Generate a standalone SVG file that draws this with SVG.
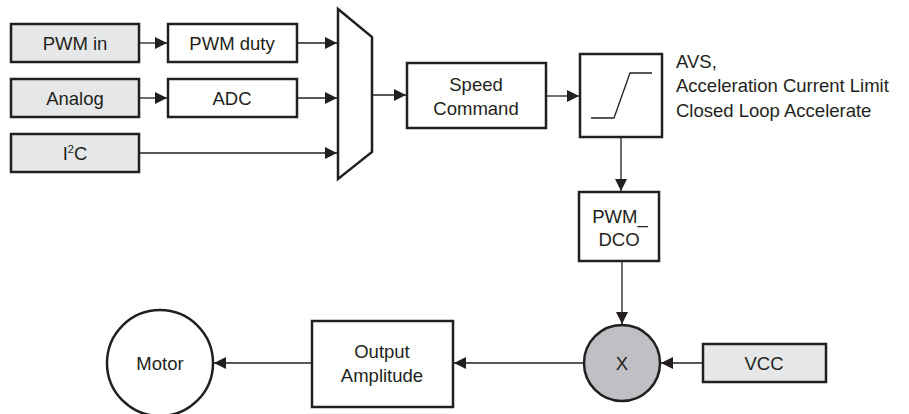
<svg xmlns="http://www.w3.org/2000/svg" width="909" height="414" viewBox="0 0 909 414">
<defs>
<style>
.box{fill:#ffffff;stroke:#231f20;stroke-width:2.5}
.in{fill:#e6e7e8;stroke:#231f20;stroke-width:2.5}
.t{font-family:"Liberation Sans",Arial,sans-serif;font-size:18.5px;fill:#231f20;text-anchor:middle}
.tl{font-family:"Liberation Sans",Arial,sans-serif;font-size:18.5px;fill:#231f20}
.c{fill:none;stroke:#231f20;stroke-width:1.3}
</style>
<marker id="ah" markerUnits="userSpaceOnUse" markerWidth="12" markerHeight="12" viewBox="0 0 12 12" refX="12" refY="6" orient="auto">
<path d="M0,0 L12,6 L0,12 Z" fill="#231f20"/>
</marker>
</defs>
<rect width="909" height="414" fill="#ffffff"/>
<g id="pwm-in"><rect class="in" x="11" y="24" width="128" height="38"/><text class="t" x="75" y="50">PWM in</text></g>
<g id="analog"><rect class="in" x="11" y="79" width="128" height="38"/><text class="t" x="75" y="105">Analog</text></g>
<g id="i2c"><rect class="in" x="11" y="134" width="128" height="38"/><text class="t" x="75" y="160">I<tspan dy="-7" font-size="11">2</tspan><tspan dy="7">C</tspan></text></g>
<g id="pwm-duty"><rect class="box" x="168" y="24" width="129" height="38"/><text class="t" x="232" y="50">PWM duty</text></g>
<g id="adc"><rect class="box" x="168" y="79" width="129" height="38"/><text class="t" x="232" y="105">ADC</text></g>
<g id="mux"><path class="box" d="M338,9 L372,37 L372,152 L338,179 Z"/></g>
<g id="speed-command"><rect class="box" x="407" y="63" width="139" height="65"/><text class="t" x="476" y="91">Speed</text><text class="t" x="476" y="115">Command</text></g>
<g id="ramp"><rect class="box" x="580" y="54" width="82" height="83"/><path d="M591,118 L614,118 L630,73 L652,73" fill="none" stroke="#231f20" stroke-width="1.3"/></g>
<g id="ramp-label"><text class="tl" x="676" y="68">AVS,</text><text class="tl" x="676" y="92">Acceleration Current Limit</text><text class="tl" x="676" y="117">Closed Loop Accelerate</text></g>
<g id="pwm-dco"><rect class="box" x="579" y="192" width="80" height="69"/><text class="t" x="620" y="223">PWM_</text><text class="t" x="619" y="246">DCO</text></g>
<g id="multiplier"><circle cx="622" cy="363" r="38" fill="#bfc0c4" stroke="#231f20" stroke-width="2.5"/><text class="t" x="622" y="370">X</text></g>
<g id="vcc"><rect class="in" x="703" y="344" width="123" height="38"/><text class="t" x="764" y="370">VCC</text></g>
<g id="output-amplitude"><rect class="box" x="312" y="321" width="141" height="86"/><text class="t" x="382" y="358">Output</text><text class="t" x="382" y="382">Amplitude</text></g>
<g id="motor"><circle cx="160" cy="363" r="53" fill="#ffffff" stroke="#231f20" stroke-width="2.5"/><text class="t" x="160" y="370">Motor</text></g>
<g id="connectors">
<line class="c" x1="140" y1="43" x2="167" y2="43" marker-end="url(#ah)"/>
<line class="c" x1="140" y1="98" x2="167" y2="98" marker-end="url(#ah)"/>
<line class="c" x1="298" y1="43" x2="337" y2="43" marker-end="url(#ah)"/>
<line class="c" x1="298" y1="98" x2="337" y2="98" marker-end="url(#ah)"/>
<line class="c" x1="140" y1="153" x2="337" y2="153" marker-end="url(#ah)"/>
<line class="c" x1="373" y1="95" x2="406" y2="95" marker-end="url(#ah)"/>
<line class="c" x1="547" y1="96" x2="579" y2="96" marker-end="url(#ah)"/>
<line class="c" x1="621" y1="138" x2="621" y2="191" marker-end="url(#ah)"/>
<line class="c" x1="622" y1="262" x2="622" y2="324" marker-end="url(#ah)"/>
<line class="c" x1="702" y1="363" x2="661" y2="363" marker-end="url(#ah)"/>
<line class="c" x1="583" y1="363" x2="454" y2="363" marker-end="url(#ah)"/>
<line class="c" x1="311" y1="363" x2="214" y2="363" marker-end="url(#ah)"/>
</g>
</svg>
